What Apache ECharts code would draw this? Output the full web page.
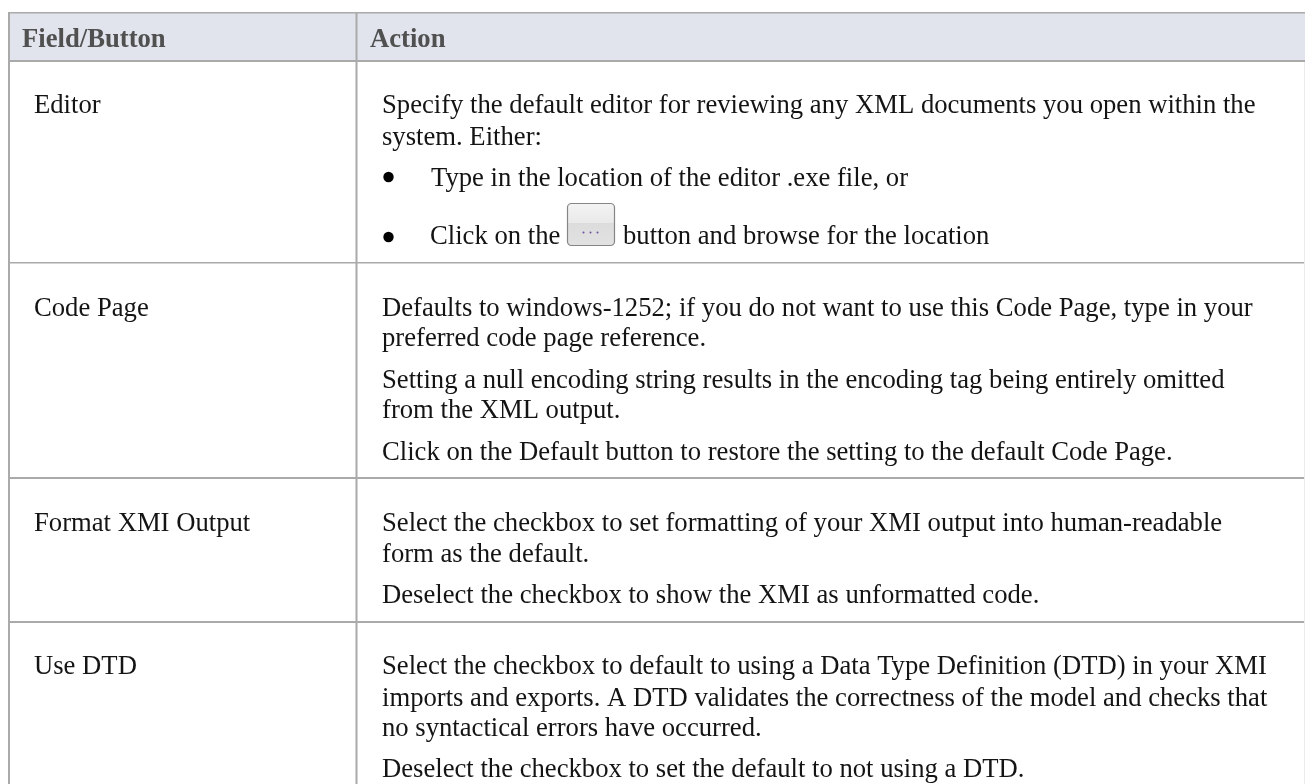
<!DOCTYPE html>
<html>
<head>
<meta charset="utf-8">
<style>html,body{margin:0;padding:0;background:#fff}#chart1{width:1305px;height:784px}</style>
<script src="https://cdn.jsdelivr.net/npm/echarts@6/dist/echarts.min.js"></script>
</head>
<body>
<div id="chart1"></div>
<script>
var headers = ['Field/Button', 'Action'];
var fields = ['Editor', 'Code Page', 'Format XMI Output', 'Use DTD'];
var editorLines = [
    'Specify the default editor for reviewing any XML documents you open within the',
    'system. Either:'
];
var editorBullets = ['Type in the location of the editor .exe file, or', 'Click on the', 'button and browse for the location'];
var codePageLines = [
    'Defaults to windows-1252; if you do not want to use this Code Page, type in your',
    'preferred code page reference.',
    'Setting a null encoding string results in the encoding tag being entirely omitted',
    'from the XML output.',
    'Click on the Default button to restore the setting to the default Code Page.'
];
var formatLines = [
    'Select the checkbox to set formatting of your XMI output into human-readable',
    'form as the default.',
    'Deselect the checkbox to show the XMI as unformatted code.'
];
var dtdLines = [
    'Select the checkbox to default to using a Data Type Definition (DTD) in your XMI',
    'imports and exports. A DTD validates the correctness of the model and checks that',
    'no syntactical errors have occurred.',
    'Deselect the checkbox to set the default to not using a DTD.'
];

var fontFamily = '"Liberation Serif", serif';
var fontSize = 26.67;
var textColor = '#141414';
var lineColor = '#aaaaaa';

function label(text, x, baseline, bold) {
    return {
        type: 'text',
        x: x,
        y: baseline - 7,
        style: {
            text: text,
            fill: bold ? '#505050' : textColor,
            font: (bold ? 'bold ' : '') + fontSize + 'px ' + fontFamily,
            textAlign: 'left',
            textVerticalAlign: 'middle',
            verticalAlign: 'middle'
        }
    };
}

function hLine(y, w) {
    return { type: 'rect', shape: { x: 8, y: y, width: 1297, height: w }, style: { fill: lineColor } };
}

function vLine(x, y0, y1) {
    return { type: 'rect', shape: { x: x, y: y0, width: 2, height: y1 - y0 }, style: { fill: lineColor } };
}

function bullet(y) {
    return { type: 'circle', shape: { cx: 388.5, cy: y, r: 5.2 }, style: { fill: '#000' } };
}

function addLines(list, lines, baselines) {
    for (var i = 0; i < lines.length; i++) {
        list.push(label(lines[i], 382, baselines[i]));
    }
}

var items = [];
items.push({ type: 'rect', shape: { x: 9, y: 12, width: 1296, height: 49 }, style: { fill: '#e1e4ec' } });
items.push(hLine(12, 1.5), hLine(60, 2), hLine(262, 1.5), hLine(477, 2), hLine(621, 2));
items.push(vLine(8, 12, 784), vLine(355.5, 12, 784));
items.push({ type: 'rect', shape: { x: 1304, y: 62, width: 1, height: 722 }, style: { fill: '#ececec' } });

items.push(label(headers[0], 22, 47, true), label(headers[1], 370, 47, true));
var fieldBaselines = [113, 316, 531, 674];
for (var i = 0; i < fields.length; i++) {
    items.push(label(fields[i], 34, fieldBaselines[i]));
}

addLines(items, editorLines, [113, 145]);
addLines(items, codePageLines, [316, 346, 388, 418, 460]);
addLines(items, formatLines, [531, 562, 603]);
addLines(items, dtdLines, [674, 706, 736, 777]);

items.push(bullet(177), bullet(237));
items.push(label(editorBullets[0], 431, 185.5), label(editorBullets[1], 430, 244), label(editorBullets[2], 623, 244));

// the small browse button inside the second bullet
items.push({
    type: 'rect',
    shape: { x: 567.5, y: 203.5, width: 47, height: 42, r: 4 },
    style: {
        stroke: '#858585',
        lineWidth: 1.2,
        fill: new echarts.graphic.LinearGradient(0, 0, 0, 1, [
            { offset: 0, color: '#f4f4f4' },
            { offset: 0.46, color: '#e9e9e9' },
            { offset: 0.47, color: '#dcdcdc' },
            { offset: 1, color: '#e2e2e2' }
        ])
    }
});
[583.5, 590.5, 597.5].forEach(function (x) {
    items.push({ type: 'circle', shape: { cx: x, cy: 232.5, r: 1 }, style: { fill: '#6d4fa0' } });
});

var myChart1 = echarts.init(document.getElementById('chart1'), null, { renderer: 'canvas' });
myChart1.setOption({
    animation: false,
    backgroundColor: '#fff',
    graphic: { elements: items }
});
</script>
</body>
</html>
